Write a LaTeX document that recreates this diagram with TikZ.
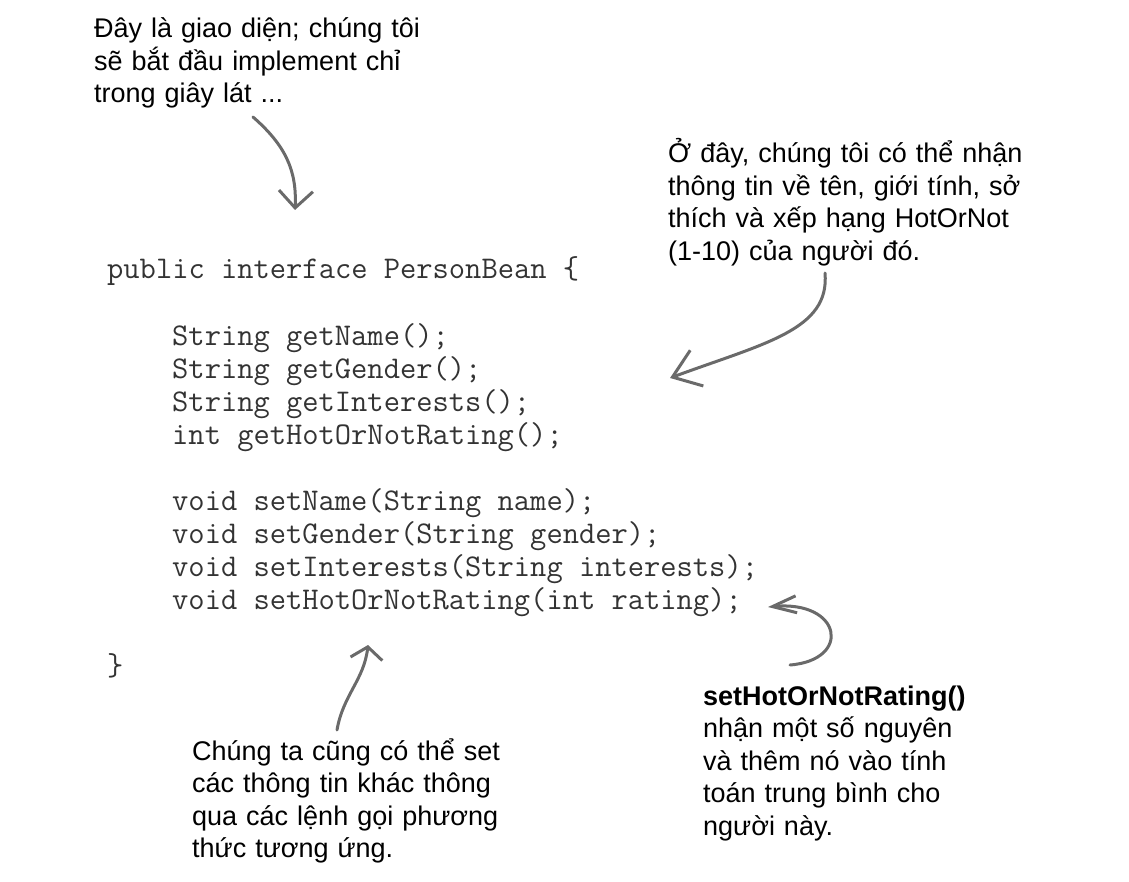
\documentclass[tikz,border=0pt]{standalone}
\usepackage{fontspec}
\setmainfont{Liberation Sans}
\usetikzlibrary{arrows.meta}
\definecolor{pencilgray}{HTML}{6A6A6A}
\definecolor{codegray}{HTML}{333333}
\tikzset{
  note/.style={anchor=base west, inner sep=0pt, text width=#1, align=left,
    font=\fontsize{27}{32.5}\selectfont},
  code/.style={anchor=base west, inner sep=0pt, text=codegray,
    font=\ttfamily\fontsize{31.6}{33}\selectfont},
  pen/.style={draw=pencilgray, line width=3pt, line cap=round, line join=round}
}
\begin{document}
\begin{tikzpicture}[x=1pt,y=-1pt]
	\useasboundingbox (0,0) rectangle (1129,882);
	% notes
	\node[note=400pt] (begin) at (94,38) {Đây là giao diện; chúng tôi\\sẽ bắt đầu implement chỉ\\trong giây lát ...};
	\node[note=420pt] (info) at (668,163) {Ở đây, chúng tôi có thể nhận\\thông tin về tên, giới tính, sở\\thích và xếp hạng HotOrNot\\(1-10) của người đó.};
	\node[note=380pt] (setters) at (192,760) {Chúng ta cũng có thể set\\các thông tin khác thông\\qua các lệnh gọi phương\\thức tương ứng.};
	\node[note=380pt] (rating) at (703,705) {\bfseries setHotOrNotRating()\\\mdseries nhận một số nguyên\\và thêm nó vào tính\\toán trung bình cho\\người này.};
	
	% the interface
	\node[code] (iface) at (107,279) {public interface PersonBean \{};
	\node[code] (getname) at (172,345) {String getName();};
	\node[code] (getgender) at (172,378) {String getGender();};
	\node[code] (getinterests) at (172,411) {String getInterests();};
	\node[code] (getrating) at (172,444) {int getHotOrNotRating();};
	\node[code] (setname) at (172,510) {void setName(String name);};
	\node[code] (setgender) at (172,543) {void setGender(String gender);};
	\node[code] (setinterests) at (172,576) {void setInterests(String interests);};
	\node[code] (setrating) at (172,609) {void setHotOrNotRating(int rating);};
	\node[code] (close) at (107,675) {\}};
	
	% pencil arrows
	\coordinate (a1) at (253,117);
	\coordinate (b1) at (295,210);
	\coordinate (a2) at (825,273);
	\coordinate (b2) at (670,378);
	\coordinate (a3) at (790,665);
	\coordinate (b3) at (768,607);
	\coordinate (a4) at (337,730);
	\coordinate (b4) at (368,645);
	\draw[pen, -{Straight Barb[length=17pt,width=34pt]}] (a1) .. controls (285,145) and (297,170) .. (b1);
	\draw[pen, -{Straight Barb[length=26pt,width=38pt]}] (a2) .. controls (830,330) and (765,343) .. (b2);
	\draw[pen, -{Straight Barb[length=24pt,width=17pt]}] (a3) .. controls (852,660) and (842,600) .. (b3);
	\draw[pen, -{Straight Barb[length=12pt,width=32pt]}] (a4) .. controls (343,695) and (364,680) .. (b4);
\end{tikzpicture}
\end{document}
